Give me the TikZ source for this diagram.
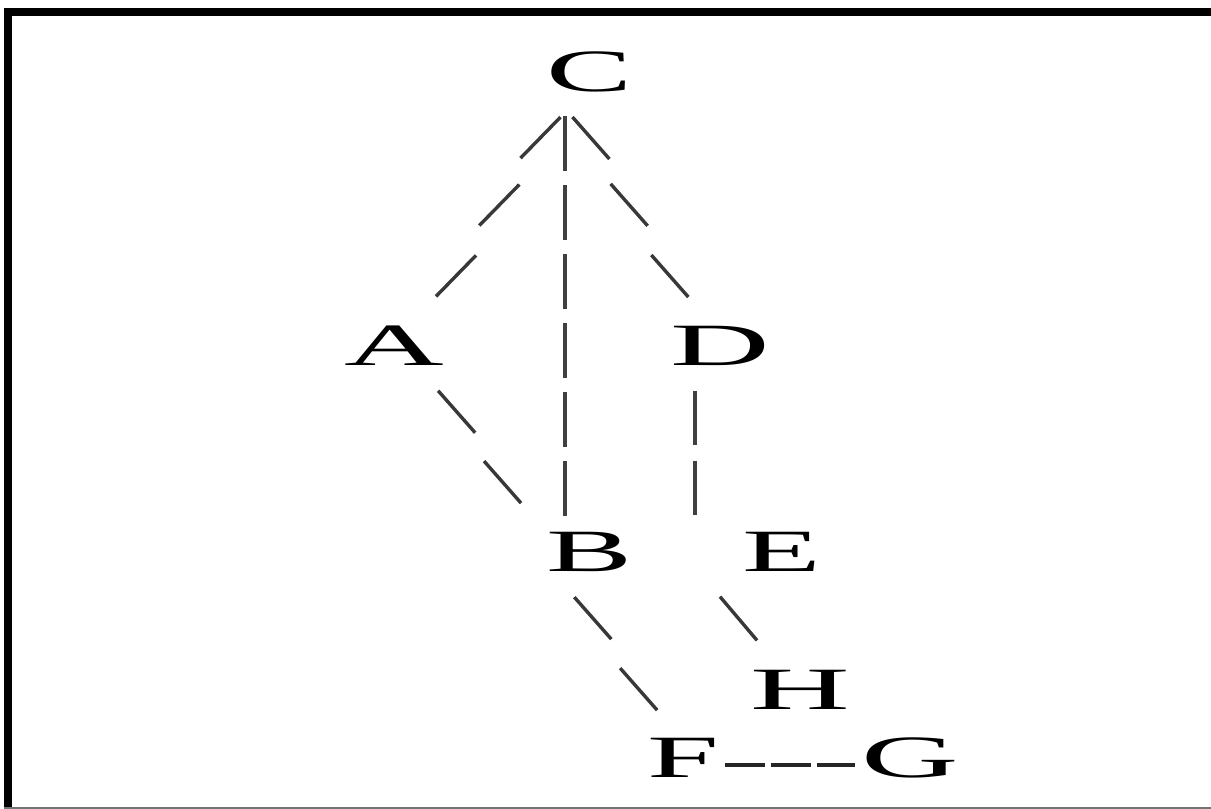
\documentclass[tikz,border=0pt]{standalone}
\usepackage{fontspec}
\setmainfont{Liberation Serif}
\usepackage{graphicx}
\usetikzlibrary{calc,decorations.markings}
\newcommand\wideletter[2][2.15]{\scalebox{#1}[1]{#2}}
\newcommand\fwstroke{\pgftransformresetnontranslations\draw[strokeline] (-20pt,-20.5pt) -- (20pt,20.5pt);}
\newcommand\bwstroke{\pgftransformresetnontranslations\draw[strokeline] (-18.5pt,21pt) -- (18.5pt,-21pt);}
\begin{document}
\begin{tikzpicture}[x=1pt,y=-1pt,
  letter/.style={inner sep=0pt, outer sep=0pt, font=\fontsize{60}{60}\selectfont},
  strokeline/.style={draw=black!78, line width=3.4pt},
  barline/.style={draw=black!75, line width=4.6pt, dash pattern=on 55pt off 14pt},
  hyph/.style={draw=black!85, line width=4.2pt, dash pattern=on 40pt off 6pt},
  framebar/.style={draw=black, line width=8pt}]
\useasboundingbox (0,0) rectangle (1211,809);
% frame
\draw[framebar] (4,12) -- (1211,12);
\draw[framebar] (8,8) -- (8,807);
\draw[draw=black!55, line width=2pt] (4,808) -- (1211,808);
% nodes
\node[letter] (C) at (590,72) {\wideletter{C}};
\node[letter] (A) at (394,346) {\wideletter[2.3]{A}};
\node[letter] (D) at (720,346) {\wideletter[2.3]{D}};
\node[letter] (B) at (590,552) {\wideletter{B}};
\node[letter] (E) at (782,552) {\wideletter{E}};
\node[letter] (H) at (800,690) {\wideletter[2.3]{H}};
\node[letter] (F) at (683,758) {\wideletter{F}};
\node[letter] (G) at (910,758) {\wideletter[2.25]{G}};
% connectors
\path[decorate, decoration={markings,
    mark=at position 24pt with {\fwstroke},
    mark=at position 103pt with {\fwstroke},
    mark=at position 186pt with {\fwstroke}}]
  ($(C.south)+(-37,25)$) -- ($(A.north)+(49,-29)$);
\draw[barline] ($(C.south)+(-25,24)$) -- ($(B.north)+(-25,-16)$);
\path[decorate, decoration={markings,
    mark=at position 24pt with {\bwstroke},
    mark=at position 101pt with {\bwstroke},
    mark=at position 183pt with {\bwstroke}}]
  ($(C.south)+(-11,25)$) -- ($(D.north)+(-38,-29)$);
\path[decorate, decoration={markings,
    mark=at position 25pt with {\bwstroke},
    mark=at position 109pt with {\bwstroke}}]
  ($(A.south)+(49,25)$) -- ($(B.north)+(-73,-28)$);
\coordinate (de1) at ($(D.south)+(-25,25)$);
\coordinate (de2) at ($(E.north)+(-87,-17)$);
\draw[barline, dash pattern=on 54pt off 16pt] (de1) -- (de2);
\path[decorate, decoration={markings,
    mark=at position 25.5pt with {\bwstroke},
    mark=at position 110pt with {\bwstroke}}]
  ($(B.south)+(-11,25)$) -- ($(F.north)+(-30,-27)$);
\draw[strokeline] ($(E.south)+(-62,25)$) -- ($(H.north)+(-43,-30)$);
\draw[hyph] ($(F.east)+(6,7)$) -- ($(G.west)+(-6,7)$);
\end{tikzpicture}
\end{document}
